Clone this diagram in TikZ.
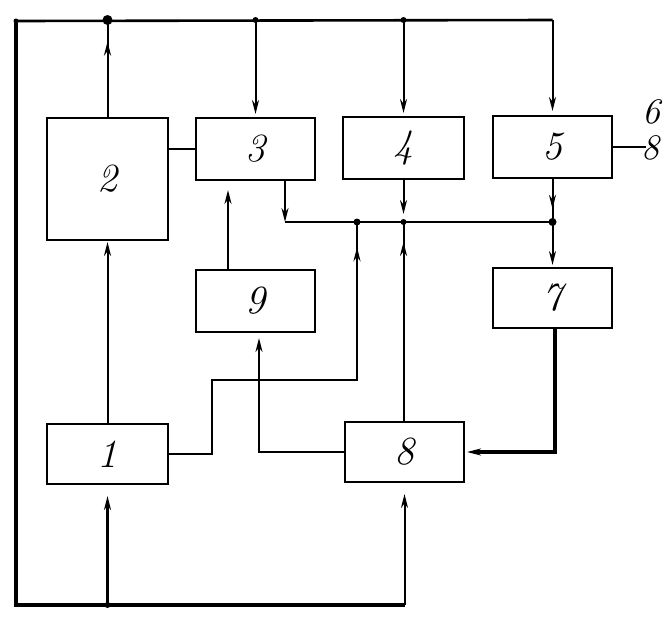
\documentclass[tikz,border=0pt]{standalone}
\usetikzlibrary{arrows.meta,decorations.markings}
\begin{document}
\begin{tikzpicture}[x=1pt,y=-1pt,
  box/.style={draw,line width=2.4pt,inner sep=0pt,outer sep=0pt,
    font=\fontsize{40}{46}\selectfont\itshape},
  wire/.style={line width=2pt},
  bus/.style={line width=3.8pt},
  tip/.style={-{Stealth[length=14pt,width=7pt]}},
  midarrow/.style={postaction={decorate},decoration={markings,
    mark=at position #1 with {\arrow{Stealth[length=14pt,width=7pt]}}}},
  dot/.style={circle,fill,inner sep=0pt,minimum size=#1},
  lab/.style={font=\fontsize{36}{40}\selectfont\itshape,inner sep=0pt}]
\useasboundingbox (0,0) rectangle (672,630);
% boxes
\node[box,minimum width=121pt,minimum height=122pt] (n2) at (107.5,179) {2};
\node[box,minimum width=119pt,minimum height=62pt] (n3) at (255.5,149) {3};
\node[box,minimum width=121pt,minimum height=62pt] (n4) at (403.5,148) {4};
\node[box,minimum width=119pt,minimum height=62pt] (n5) at (552.5,147) {5};
\node[box,minimum width=119pt,minimum height=62pt] (n9) at (255.5,301) {9};
\node[box,minimum width=119pt,minimum height=60pt] (n7) at (552.5,298) {7};
\node[box,minimum width=121pt,minimum height=60pt] (n1) at (107.5,454) {1};
\node[box,minimum width=119pt,minimum height=60pt] (n8) at (404.5,452) {8};
% coordinates
\coordinate (TL) at (16,21);
\coordinate (J2) at (107.5,20);
\coordinate (J3) at (255.5,20);
\coordinate (J4) at (403.5,20);
\coordinate (TR) at (552.5,20);
\coordinate (A) at (285,222);
\coordinate (B) at (357,222);
\coordinate (C) at (403.5,222);
\coordinate (D) at (552.5,222);
\coordinate (BL) at (16,605);
\coordinate (B1) at (107.5,605);
\coordinate (BR) at (404.5,605);
\coordinate (K1) at (212,454);
\coordinate (K2) at (212,380);
\coordinate (K3) at (357,380);
\coordinate (L5) at (646,147);
% outer frame
\draw[bus] (TL) -- (BL) -- (BR);
\draw[line width=2.6pt] (TL) -- (TR);
\draw[wire,tip,shorten >=5pt] (TR) -- (n5.north);
\draw[wire,tip,shorten >=4pt] (J4) -- (n4.north);
\draw[wire,tip,shorten >=4pt] (J3) -- (n3.north);
\draw[wire,midarrow=0.78] (n2.north) -- (J2);
% bottom
\draw[bus,tip,shorten >=12pt] (B1) -- (n1.south);
\draw[wire,tip,shorten >=12pt] (BR) -- (n8.south);
% 1 -> 2
\draw[wire,tip,shorten >=2pt] (n1.north) -- (n2.south);
% 2 -- 3
\draw[wire] (n2.east |- n3.west) -- (n3.west);
% 9 -> 3
\draw[wire,tip,shorten >=10pt] (n9.north -| 228,0) -- (n3.south -| 228,0);
% 3 -> junction line
\draw[wire,tip] (n3.south -| A) -- (A);
\draw[wire] (A) -- (D);
% 4 -> junction
\draw[wire,tip,shorten >=8pt] (n4.south) -- (C);
% 5 -> junction -> 7
\draw[wire,midarrow=0.7] (n5.south) -- (D);
\draw[wire,tip,shorten >=3pt] (D) -- (n7.north);
% 8 -> junction
\draw[wire,midarrow=0.9] (n8.north -| C) -- (C);
% 1 -> junction
\draw[wire,midarrow=0.94] (n1.east) -- (K1) -- (K2) -- (K3) -- (B);
% 8 -> 9
\draw[wire,tip,shorten >=6pt] (n8.west) -| ([xshift=3.5pt]n9.south);
% 7 -> 8
\draw[line width=3.2pt,tip,shorten >=3pt] ([xshift=2.5pt]n7.south) |- (n8.east);
% 5 output
\draw[wire] (n5.east |- L5) -- (L5);
\node[lab] (l6) at (651,112) {6};
\node[lab] (l8) at (650,148) {8};
% dots
\node[dot=10pt] (d2) at (J2) {};
\node[dot=6pt] (d3) at (J3) {};
\node[dot=6pt] (d4) at (J4) {};
\node[dot=5pt] (dtl) at (TL) {};
\node[dot=7pt] (dB) at (B) {};
\node[dot=6pt] (dC) at (C) {};
\node[dot=8pt] (dD) at (D) {};
\node[dot=6pt] (dB1) at (B1) {};
\end{tikzpicture}
\end{document}
